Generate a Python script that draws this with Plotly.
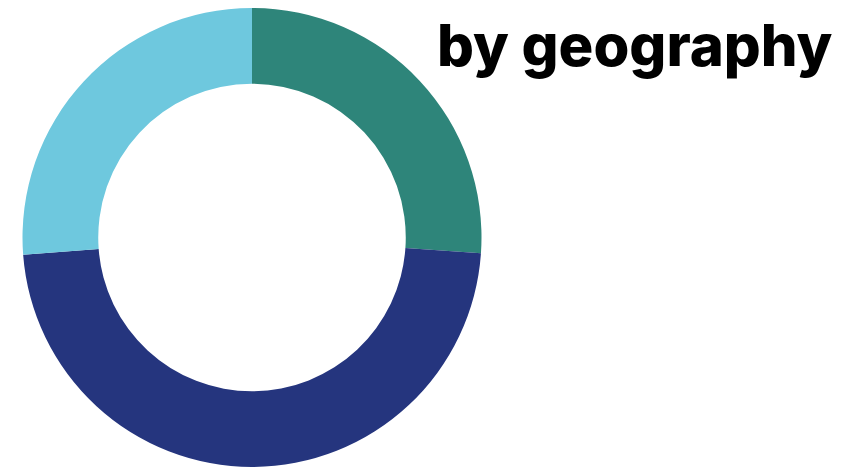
import plotly.graph_objects as go

regions = ["Region A", "Region B", "Region C"]
shares = [26.1, 47.7, 26.2]
colors = ["#2E857A", "#25357E", "#6EC8DE"]
title_text = "by geography"

W, H = 858, 470
OFF = 8  # page body margin offset

fig = go.Figure(go.Pie(
    labels=regions,
    values=shares,
    hole=0.67,
    sort=False,
    direction="clockwise",
    rotation=0,
    marker=dict(colors=colors, line=dict(width=0)),
    textinfo="none",
    hoverinfo="label+percent",
    domain=dict(x=[(22 - OFF) / W, (482 - OFF) / W], y=[(H - 467 + OFF) / H, 1]),
))

fig.add_annotation(
    text=title_text,
    xref="paper", yref="paper",
    x=(835 - OFF) / W, y=1,
    xanchor="right", yanchor="top",
    showarrow=False,
    font=dict(family="Inter", size=58, color="#000000", weight=800),
)

fig.update_layout(
    width=W, height=H,
    margin=dict(l=0, r=0, t=0, b=0),
    paper_bgcolor="white",
    plot_bgcolor="white",
    showlegend=False,
)

fig.write_html("out.html")
